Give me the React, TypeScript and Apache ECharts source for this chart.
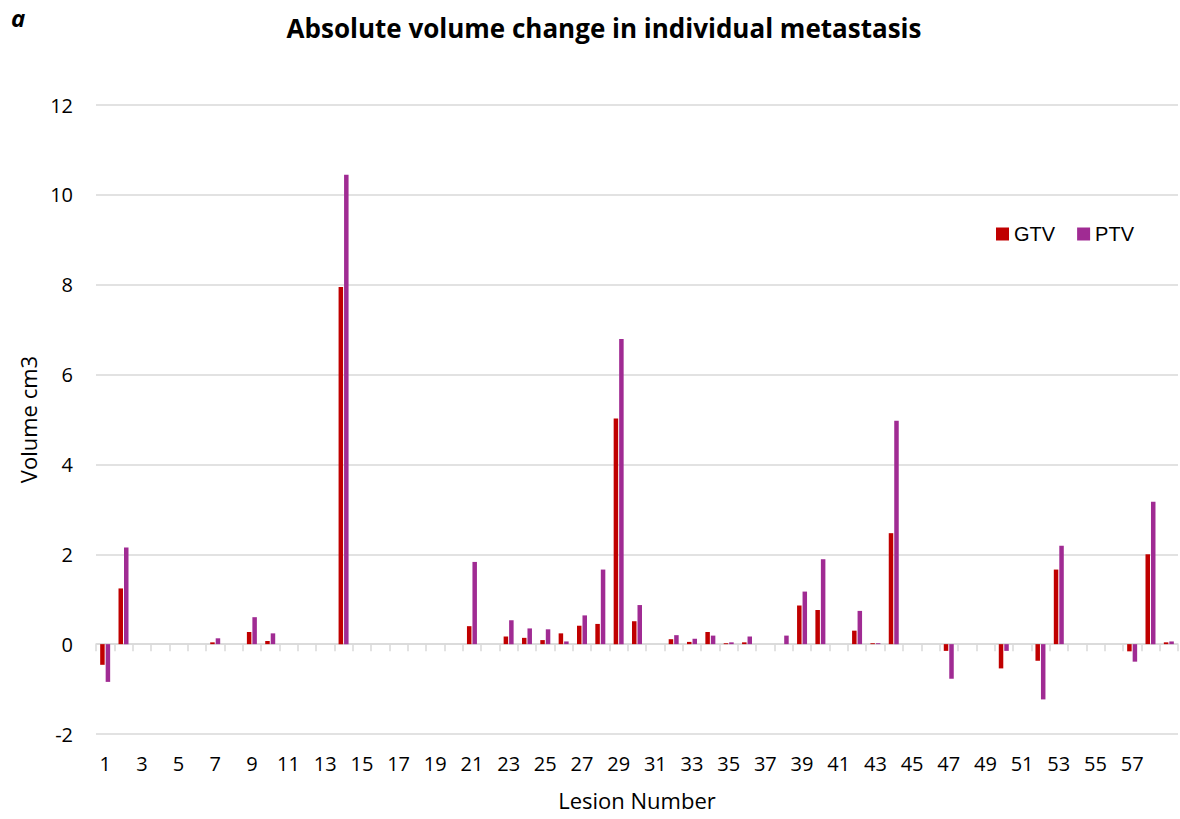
import React, { useEffect, useRef } from "react";
import * as echarts from "echarts";

const lesions: string[] = Array.from({ length: 59 }, (_, i) => String(i + 1));

const gtv: number[] = [
  -0.46, 1.24, 0, 0, 0, 0, 0.04, 0, 0.27, 0.07,
  0, 0, 0, 7.95, 0, 0, 0, 0, 0, 0,
  0.4, 0, 0.17, 0.14, 0.09, 0.24, 0.41, 0.45, 5.02, 0.51,
  0, 0.11, 0.05, 0.27, 0.02, 0.04, 0, 0, 0.86, 0.76,
  0, 0.3, 0.02, 2.47, 0, 0, -0.15, 0, 0, -0.54,
  0, -0.37, 1.66, 0, 0, 0, -0.16, 2.0, 0.04,
];

const ptv: number[] = [
  -0.84, 2.15, 0, 0, 0, 0, 0.13, 0, 0.6, 0.24,
  0, 0, 0, 10.45, 0, 0, 0, 0, 0, 0,
  1.83, 0, 0.53, 0.35, 0.33, 0.06, 0.64, 1.66, 6.79, 0.87,
  0, 0.2, 0.12, 0.19, 0.04, 0.17, 0, 0.19, 1.17, 1.89,
  0, 0.74, 0.02, 4.97, 0, 0, -0.77, 0, 0, -0.15,
  0, -1.23, 2.19, 0, 0, 0, -0.39, 3.17, 0.06,
];

const seriesNames = ["GTV", "PTV"];
const colors = ["#C00000", "#A02B93"];

const labelFont = "'Open Sans', Lato, sans-serif";

export default function App() {
  const ref = useRef<HTMLDivElement>(null);
  useEffect(() => {
    if (!ref.current) return;
    const chart = echarts.init(ref.current, undefined, { renderer: "svg" });
    chart.setOption({
      animation: false,
      backgroundColor: "#ffffff",
      title: {
        text: "Absolute volume change in individual metastasis",
        left: 599,
        textAlign: "center",
        top: 10,
        textStyle: {
          fontFamily: labelFont,
          fontWeight: "bold",
          fontSize: 26,
          color: "#000",
        },
      },
      graphic: [
        {
          type: "text",
          left: 11,
          top: 5,
          style: {
            text: "a",
            font: "italic bold 24px " + labelFont,
            fill: "#000",
          },
        },
      ],
      legend: {
        left: 991,
        top: 219,
        icon: "rect",
        itemWidth: 13,
        itemHeight: 13,
        itemGap: 22,
        data: seriesNames,
        textStyle: {
          fontFamily: "'Liberation Sans', Arial, sans-serif",
          fontSize: 20,
          color: "#000",
        },
      },
      grid: { left: 96, right: 2, top: 105, bottom: 85, containLabel: false },
      xAxis: [
        {
          type: "category",
          data: lesions,
          position: "bottom",
          axisLine: { onZero: true, lineStyle: { color: "#d9d9d9", width: 1.5 } },
          axisTick: { show: true, interval: 0, length: 7, lineStyle: { color: "#d9d9d9", width: 1.5 } },
          axisLabel: { show: false },
          splitLine: { show: false },
        },
        {
          type: "category",
          data: lesions,
          position: "bottom",
          axisLine: { show: false, onZero: false },
          axisTick: { show: false },
          axisLabel: {
            show: true,
            interval: (idx: number) => idx % 2 === 0 && idx < 58,
            margin: 19,
            fontFamily: labelFont,
            fontSize: 20,
            color: "#000",
          },
          name: "Lesion Number",
          nameLocation: "middle",
          nameGap: 55,
          nameTextStyle: { fontFamily: labelFont, fontSize: 22, color: "#000" },
        },
      ],
      yAxis: {
        type: "value",
        min: -2,
        max: 12,
        interval: 2,
        axisLine: { show: false },
        axisTick: { show: false },
        axisLabel: {
          margin: 23,
          fontFamily: labelFont,
          fontSize: 20,
          color: "#000",
        },
        splitLine: { lineStyle: { color: "#d9d9d9", width: 1.5 } },
        name: "Volume cm3",
        nameLocation: "middle",
        nameGap: 56,
        nameRotate: 90,
        nameTextStyle: { fontFamily: labelFont, fontSize: 22, color: "#000" },
      },
      series: [
        {
          name: seriesNames[0],
          type: "bar",
          xAxisIndex: 0,
          data: gtv,
          barWidth: 4.5,
          barGap: "22%",
          itemStyle: { color: colors[0] },
        },
        {
          name: seriesNames[1],
          type: "bar",
          xAxisIndex: 0,
          data: ptv,
          barWidth: 4.5,
          barGap: "22%",
          itemStyle: { color: colors[1] },
        },
      ],
    });
    return () => chart.dispose();
  }, []);
  return (
    <div
      ref={ref}
      style={{ position: "fixed", left: 0, top: 0, width: 1180, height: 819 }}
    />
  );
}
